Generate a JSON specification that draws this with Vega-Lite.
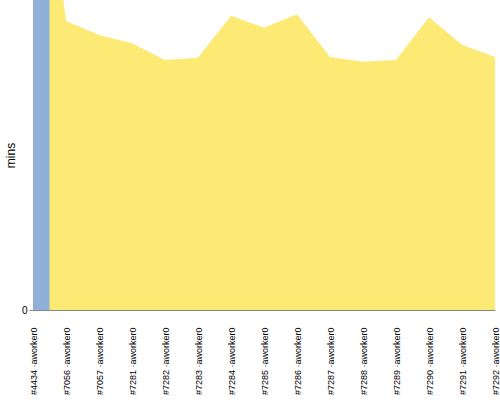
{
  "$schema": "https://vega.github.io/schema/vega-lite/v6.json",
  "width": 462,
  "height": 310,
  "padding": {"left": 4, "top": 0, "right": 0, "bottom": 0},
  "background": "white",
  "config": {"view": {"stroke": null}, "font": "Liberation Sans"},
  "data": {
    "values": [
      {"build": "#4434 ·aworker0", "success": 60, "unstable": 54.6},
      {"build": "#7056 ·aworker0", "success": 0, "unstable": 28.9},
      {"build": "#7057 ·aworker0", "success": 0, "unstable": 27.5},
      {"build": "#7281 ·aworker0", "success": 0, "unstable": 26.67},
      {"build": "#7282 ·aworker0", "success": 0, "unstable": 25.0},
      {"build": "#7283 ·aworker0", "success": 0, "unstable": 25.23},
      {"build": "#7284 ·aworker0", "success": 0, "unstable": 29.43},
      {"build": "#7285 ·aworker0", "success": 0, "unstable": 28.23},
      {"build": "#7286 ·aworker0", "success": 0, "unstable": 29.57},
      {"build": "#7287 ·aworker0", "success": 0, "unstable": 25.3},
      {"build": "#7288 ·aworker0", "success": 0, "unstable": 24.83},
      {"build": "#7289 ·aworker0", "success": 0, "unstable": 25.0},
      {"build": "#7290 ·aworker0", "success": 0, "unstable": 29.27},
      {"build": "#7291 ·aworker0", "success": 0, "unstable": 26.53},
      {"build": "#7292 ·aworker0", "success": 0, "unstable": 25.3}
    ]
  },
  "encoding": {
    "x": {
      "field": "build",
      "type": "ordinal",
      "sort": null,
      "scale": {"type": "point", "padding": 0},
      "axis": {
        "title": null,
        "labelAngle": 270,
        "labelAlign": "right",
        "labelBaseline": "middle",
        "labelFontSize": 9,
        "labelColor": "#000000",
        "ticks": false,
        "labelPadding": 17,
        "domainColor": "#888888",
        "grid": false
      }
    }
  },
  "layer": [
    {
      "mark": {"type": "area", "clip": true, "color": "#FCEA75", "interpolate": "linear"},
      "encoding": {
        "y": {
          "field": "unstable",
          "type": "quantitative",
          "stack": null,
          "scale": {"domain": [0, 31], "nice": false, "zero": true},
          "axis": {
            "title": "mins",
            "titleFontWeight": "normal",
            "titleFontSize": 12,
            "titleColor": "#000000",
            "titlePadding": 4,
            "values": [0],
            "grid": false,
            "labelFontSize": 10,
            "labelColor": "#000000",
            "tickSize": 4,
            "tickColor": "#888888",
            "domainColor": "#888888"
          }
        }
      }
    },
    {
      "mark": {"type": "area", "clip": true, "color": "#8FB1D9", "interpolate": "step"},
      "encoding": {
        "y": {
          "field": "success",
          "type": "quantitative",
          "stack": null
        }
      }
    }
  ]
}
